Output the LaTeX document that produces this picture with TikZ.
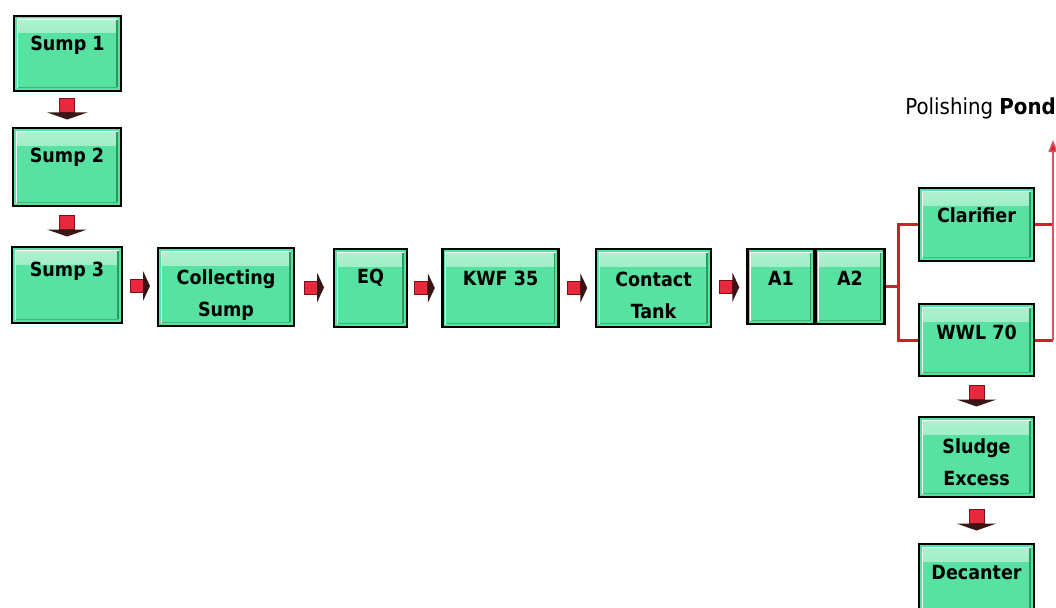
\documentclass[tikz,border=0pt]{standalone}
\usepackage{fontspec}
\setmainfont{DejaVu Sans Condensed}
\usetikzlibrary{calc,arrows.meta}
\definecolor{boxgreen}{HTML}{58E2A2}
\definecolor{hilite}{HTML}{B4F2D2}
\definecolor{edgegreen}{HTML}{2A9A60}
\definecolor{arrowred}{HTML}{E8283C}
\definecolor{arrowdark}{HTML}{7A1018}
\definecolor{headdark}{HTML}{3A1515}
\definecolor{lineRed}{HTML}{D0202A}
\definecolor{thinRed}{HTML}{E05062}
\tikzset{
  tank/.style={draw=black, line width=2.6pt, fill=boxgreen, inner sep=0pt,
    path picture={
      \shade[top color=hilite, bottom color=boxgreen]
        ([shift={(3pt,-3pt)}]path picture bounding box.north west) rectangle
        ([shift={(-4pt,-17pt)}]path picture bounding box.north east);
      \draw[white, line width=0.9pt]
        ([shift={(3pt,3pt)}]path picture bounding box.south west) --
        ([shift={(3pt,-3pt)}]path picture bounding box.north west) --
        ([shift={(-3pt,-3pt)}]path picture bounding box.north east);
      \draw[edgegreen, line width=1.4pt]
        ([shift={(-4pt,-4pt)}]path picture bounding box.north east) --
        ([shift={(-4pt,4pt)}]path picture bounding box.south east);
      \draw[edgegreen!60!boxgreen, line width=0.8pt]
        ([shift={(4pt,4pt)}]path picture bounding box.south west) --
        ([shift={(-4pt,4pt)}]path picture bounding box.south east);
    }},
  lbl/.style={inner sep=0pt, align=center, text=black,
    font=\fontsize{19.5}{32}\selectfont\bfseries},
  redline/.style={draw=lineRed, line width=3pt},
  harrow/.pic={
    \filldraw[fill=arrowred, draw=arrowdark, line width=0.7pt] (-10,-6.5) rectangle (3,6.5);
    \fill[headdark] (3,-15) -- (10,0) -- (3,15) -- cycle;
  },
  varrow/.pic={
    \filldraw[fill=arrowred, draw=arrowdark, line width=0.7pt] (-7.5,-11) rectangle (7.5,3);
    \fill[headdark] (-20,3) -- (20,3) -- (0,10) -- cycle;
  },
}
\begin{document}
\begin{tikzpicture}[x=1pt,y=-1pt]
\useasboundingbox (0,0) rectangle (1056,607);
\fill[white] (0,0) rectangle (1056,607);

% left column
\node[tank, minimum width=107pt, minimum height=75pt] (s1) at (67.5,53.5) {};
\node[lbl] (s1t) at (67.5,45) {Sump 1};
\node[tank, minimum width=108pt, minimum height=78pt] (s2) at (67,167) {};
\node[lbl] (s2t) at (67,157) {Sump 2};
\node[tank, minimum width=110pt, minimum height=76pt] (s3) at (67,285) {};
\node[lbl] (s3t) at (67,271) {Sump 3};

% main row
\node[tank, minimum width=136pt, minimum height=78pt] (cs) at (226,287) {};
\node[lbl] (cst) at (226,295) {Collecting\\Sump};
\node[tank, minimum width=73pt, minimum height=78pt] (eq) at (370.5,288) {};
\node[lbl] (eqt) at (370.5,278) {EQ};
\node[tank, minimum width=116pt, minimum height=78pt] (kwf) at (500.5,288) {};
\node[lbl] (kwft) at (500.5,278) {KWF 35};
\node[tank, minimum width=115pt, minimum height=78pt] (ct) at (653.5,288) {};
\node[lbl] (ctt) at (653.5,295) {Contact\\Tank};
\node[tank, minimum width=67pt, minimum height=75pt] (a1) at (781,286.5) {};
\node[lbl] (a1t) at (781,278) {A1};
\node[tank, minimum width=69pt, minimum height=75pt] (a2) at (850,286.5) {};
\node[lbl] (a2t) at (850,278) {A2};

% right column
\node[tank, minimum width=115pt, minimum height=73pt] (cl) at (976.5,224.5) {};
\node[lbl] (clt) at (976.5,215) {Clarifier};
\node[tank, minimum width=115pt, minimum height=72pt] (ww) at (976.5,340) {};
\node[lbl] (wwt) at (976.5,332) {WWL 70};
\node[tank, minimum width=115pt, minimum height=80pt] (se) at (976.5,457) {};
\node[lbl] (set) at (976.5,462) {Sludge\\Excess};
\node[tank, minimum width=115pt, minimum height=80pt] (dc) at (976.5,584) {};
\node[lbl] (dct) at (976.5,573) {Decanter};

\node[anchor=east, inner sep=0pt, font=\fontsize{22}{26}\selectfont] (pp) at (1056,108) {Polishing \textbf{Pond}};

% block arrows
\path ($(s1.south)!0.5!(s2.north)$) pic {varrow};
\path ($(s2.south)!0.5!(s3.north)$) pic {varrow};
\path ($(s3.east)!0.5!(cs.west)$) pic {harrow};
\path ($(cs.east)!0.5!(eq.west)$) pic {harrow};
\path ($(eq.east)!0.5!(kwf.west)$) pic {harrow};
\path ($(kwf.east)!0.5!(ct.west)$) pic {harrow};
\path ($(ct.east)!0.5!(a1.west)$) pic {harrow};
\path ($(ww.south)!0.5!(se.north)$) pic {varrow};
\path ($(se.south)!0.5!(dc.north)$) pic {varrow};

% red connectors
\coordinate (jx) at (898,0);
\coordinate (rx) at (1053,0);
\coordinate (top) at (1053,140);
\draw[redline] (a2.east) -- (a2.east -| jx);
\draw[redline] (cl.west) -- (cl.west -| jx) -- (ww.west -| jx) -- (ww.west);
\draw[redline] (cl.east) -- (cl.east -| rx);
\draw[redline] (ww.east) -- (ww.east -| rx);
\draw[draw=thinRed, line width=1.6pt, -{Triangle[length=12pt,width=9pt,fill=lineRed]}]
  (ww.east -| rx) -- (top);
\end{tikzpicture}
\end{document}
